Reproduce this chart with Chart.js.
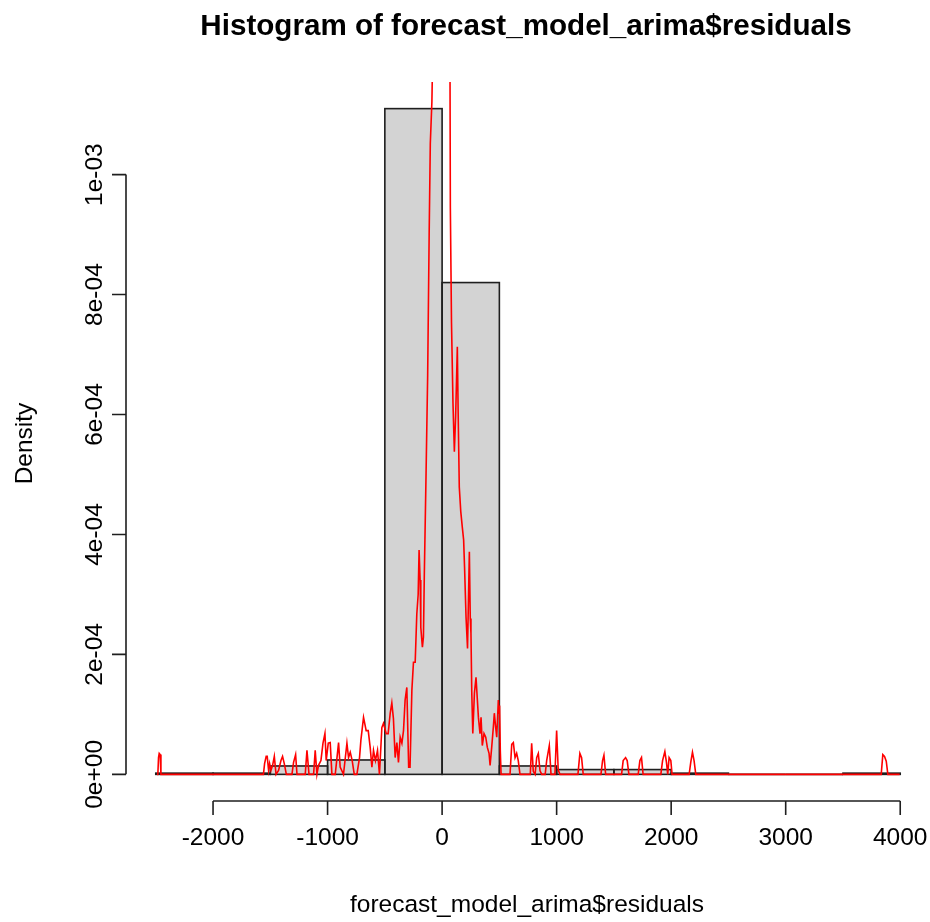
<!DOCTYPE html>
<html>
<head>
<meta charset="utf-8">
<title>Histogram of forecast_model_arima$residuals</title>
<script src="https://cdn.jsdelivr.net/npm/chart.js@4.4.1/dist/chart.umd.min.js"></script>
<style>
  html, body { margin: 0; padding: 0; background: #ffffff; }
  canvas { display: block; }
</style>
</head>
<body>
<canvas id="hist" width="930" height="922"></canvas>
<script>
// Histogram bins (width 500) and their densities
const binBreaks = [-2500, -2000, -1500, -1000, -500, 0, 500, 1000, 1500, 2000, 2500, 3000, 3500, 4000];
const binDensity = [2e-6, 2e-6, 1.4e-5, 2.4e-5, 1.11e-3, 8.2e-4, 1.4e-5, 8e-6, 8e-6, 2e-6, 0, 0, 2e-6];

// Kernel density estimate of the residuals
const kdeX = [
  -2490, -2482, -2476, -2470, -2462, -2455,
  -1560, -1550, -1536, -1527, -1515, -1506, -1494, -1480, -1465, -1450, -1428, -1407, -1393, -1378, -1360,
  -1311, -1297, -1279, -1267, -1195, -1180, -1162, -1122, -1108, -1093, -1079, -1058, -1040, -1023, -1012,
  -994, -977, -962, -933, -904, -890, -861, -831, -817, -802, -785, -767, -744, -721, -709, -686, -663,
  -645, -628, -613, -599, -582, -564, -547, -526, -512, -488, -471, -453, -439, -425, -410, -395, -381,
  -366, -351, -337, -323, -308, -292, -280, -264, -250, -235, -221, -209, -201, -192, -186, -172, -163,
  -155, -140, -126, -113, -103, -89, -78, -20, 40, 68, 72, 82, 95, 107, 118, 133, 140, 146, 150, 163,
  177, 188, 196, 209, 222, 238, 246, 252, 259, 268, 282, 296, 303, 317, 331, 340, 351, 366, 381, 395,
  410, 419, 433, 447, 456, 468, 477, 491, 497, 502, 508, 515, 593, 608, 622, 637, 651, 665, 680,
  770, 782, 796, 812, 826, 840, 855, 870, 900, 913, 936, 951, 985, 1000, 1014, 1029,
  1186, 1203, 1218, 1232, 1387, 1401, 1413, 1428, 1567, 1581, 1602, 1616, 1631,
  1712, 1727, 1741, 1755, 1910, 1925, 1945, 1959, 1970, 1982, 1997, 2008,
  2157, 2171, 2186, 2200, 2215, 3834, 3848, 3863, 3878, 3892, 3995
];
const kdeY = [
  0, 0, 2.8e-5, 3.5e-5, 3.3e-5, 0,
  0, 1.8e-5, 3.0e-5, 3.0e-5, 6.7e-6, 1.8e-5, 6.7e-6, 1.5e-5, 3.0e-5, 0, 6.7e-6, 2.3e-5, 3.0e-5, 1.8e-5, 0,
  0, 2.0e-5, 3.3e-5, 0, 0, 4.0e-5, 0, 0, 4.0e-5, 0, 1.5e-5, 2.3e-5, 5.2e-5, 6.8e-5, 2.3e-5,
  5.2e-5, 5.3e-5, 0, 0, 5.3e-5, 1.2e-5, 0, 5.2e-5, 2.8e-5, 3.7e-5, 2.3e-5, 0, 0, 2.8e-5, 5.7e-5, 9.5e-5, 7.3e-5,
  7.3e-5, 4.5e-5, 1.2e-5, 4.0e-5, 2.3e-5, 4.0e-5, 0, 7.8e-5, 8.5e-5, 6.8e-5, 6.8e-5, 1.02e-4, 1.19e-4, 9.3e-5, 2.8e-5, 5.3e-5, 2.0e-5,
  6.2e-5, 5.2e-5, 7.3e-5, 1.24e-4, 1.45e-4, 1.2e-5, 1.2e-5, 1.4e-4, 1.87e-4, 1.87e-4, 2.67e-4, 3.0e-4, 3.74e-4, 3.24e-4, 2.45e-4, 2.12e-4, 2.29e-4,
  3.36e-4, 5.02e-4, 6.66e-4, 9.0e-4, 1.052e-3, 1.122e-3, 1.25e-3, 2.6e-3, 2.6e-3, 1.25e-3, 9.45e-4, 7.53e-4, 6.19e-4, 5.38e-4, 5.96e-4, 7.13e-4, 6.06e-4, 6.06e-4, 4.79e-4, 4.38e-4,
  4.11e-4, 3.91e-4, 3.46e-4, 2.62e-4, 2.1e-4, 3.71e-4, 2.6e-4, 2.35e-4, 1.37e-4, 6.8e-5, 1.35e-4, 1.62e-4, 1.62e-4, 9.5e-5, 6.8e-5, 9.5e-5, 4.8e-5, 6.8e-5, 6.2e-5, 4.5e-5,
  3.5e-5, 1.5e-5, 4.5e-5, 7.8e-5, 1.02e-4, 7.8e-5, 6.2e-5, 1.24e-4, 1.02e-4, 1.15e-4, 4.0e-5, 0, 0, 5.0e-5, 5.3e-5, 2.8e-5, 3.5e-5, 2.3e-5, 0,
  0, 5.2e-5, 5e-6, 0, 2.8e-5, 3.5e-5, 6e-6, 0, 0, 2.3e-5, 4.8e-5, 0, 0, 7.3e-5, 7e-6, 0,
  0, 3.5e-5, 2.8e-5, 0, 0, 2.3e-5, 3.2e-5, 0, 0, 2.3e-5, 2.8e-5, 2.3e-5, 0,
  0, 2.3e-5, 2.8e-5, 0, 0, 2.3e-5, 3.8e-5, 2.0e-5, 0, 2.8e-5, 2.3e-5, 0,
  0, 2.0e-5, 3.7e-5, 2.3e-5, 0, 0, 3.3e-5, 3.0e-5, 2.2e-5, 0, 0
];

// Axis ticks
const xTicks = [-2000, -1000, 0, 1000, 2000, 3000, 4000];
const xTickLabels = ['-2000', '-1000', '0', '1000', '2000', '3000', '4000'];
const yTicks = [0, 2e-4, 4e-4, 6e-4, 8e-4, 1e-3];
const yTickLabels = ['0e+00', '2e-04', '4e-04', '6e-04', '8e-04', '1e-03'];

const mainTitle = 'Histogram of forecast_model_arima$residuals';
const xTitle = 'forecast_model_arima$residuals';
const yTitle = 'Density';

// Base-graphics style limits: data range widened by 4% on each side
const xLo = binBreaks[0], xHi = binBreaks[binBreaks.length - 1];
const xPad = 0.04 * (xHi - xLo);
const yHi = Math.max(...binDensity);
const yPad = 0.04 * yHi;

const binMids = binDensity.map((_, i) => (binBreaks[i] + binBreaks[i + 1]) / 2);
const barPoints = binMids.map((m, i) => ({ x: m, y: binDensity[i] }));
const kdePoints = kdeX.map((x, i) => ({ x: x, y: kdeY[i] }));

const FONT = '"Liberation Sans", Arial, Helvetica, sans-serif';
const INK = '#1f1f1f';

// Outlines every histogram rectangle, as base graphics rect() does
const barOutline = {
  id: 'barOutline',
  afterDatasetDraw(chart, args) {
    if (args.index !== 0) return;
    const ctx = chart.ctx;
    ctx.save();
    ctx.strokeStyle = INK;
    ctx.lineWidth = 1.6;
    args.meta.data.forEach(el => {
      const p = el.getProps(['x', 'y', 'base', 'width'], true);
      const left = p.x - p.width / 2;
      const top = Math.min(p.y, p.base);
      const h = Math.abs(p.base - p.y);
      ctx.strokeRect(left, top, p.width, h);
    });
    ctx.restore();
  }
};

// Axes, tick labels and titles drawn in the classic base-graphics layout
const baseAxes = {
  id: 'baseAxes',
  afterDraw(chart) {
    const ctx = chart.ctx;
    const xs = chart.scales.x, ys = chart.scales.y;
    const area = chart.chartArea;
    const tickLen = 14;
    ctx.save();
    ctx.strokeStyle = INK;
    ctx.lineWidth = 1.6;
    ctx.fillStyle = '#000000';

    // x axis
    const xAxisY = area.bottom;
    const xa = xs.getPixelForValue(xTicks[0]);
    const xb = xs.getPixelForValue(xTicks[xTicks.length - 1]);
    ctx.beginPath();
    ctx.moveTo(xa, xAxisY);
    ctx.lineTo(xb, xAxisY);
    xTicks.forEach(v => {
      const px = xs.getPixelForValue(v);
      ctx.moveTo(px, xAxisY);
      ctx.lineTo(px, xAxisY + tickLen);
    });
    ctx.stroke();
    ctx.font = '24.5px ' + FONT;
    ctx.textAlign = 'center';
    ctx.textBaseline = 'middle';
    xTicks.forEach((v, i) => {
      ctx.fillText(xTickLabels[i], xs.getPixelForValue(v), 838);
    });

    // y axis
    const yAxisX = area.left;
    const ya = ys.getPixelForValue(yTicks[0]);
    const yb = ys.getPixelForValue(yTicks[yTicks.length - 1]);
    ctx.beginPath();
    ctx.moveTo(yAxisX, ya);
    ctx.lineTo(yAxisX, yb);
    yTicks.forEach(v => {
      const py = ys.getPixelForValue(v);
      ctx.moveTo(yAxisX, py);
      ctx.lineTo(yAxisX - tickLen, py);
    });
    ctx.stroke();
    yTicks.forEach((v, i) => {
      ctx.save();
      ctx.translate(95, ys.getPixelForValue(v));
      ctx.rotate(-Math.PI / 2);
      ctx.fillText(yTickLabels[i], 0, 0);
      ctx.restore();
    });

    // titles
    const midX = (area.left + area.right) / 2;
    ctx.fillText(xTitle, midX - 1, 905);
    ctx.save();
    ctx.translate(25, (area.top + area.bottom) / 2 + 2);
    ctx.rotate(-Math.PI / 2);
    ctx.fillText(yTitle, 0, 0);
    ctx.restore();
    ctx.font = 'bold 29.6px ' + FONT;
    ctx.fillText(mainTitle, midX - 2, 27);
    ctx.restore();
  }
};

new Chart(document.getElementById('hist'), {
  type: 'bar',
  data: {
    datasets: [
      {
        type: 'bar',
        label: 'Histogram',
        data: barPoints,
        backgroundColor: '#D3D3D3',
        borderWidth: 0,
        barPercentage: 1,
        categoryPercentage: 1,
        order: 1
      },
      {
        type: 'line',
        label: 'Density',
        data: kdePoints,
        borderColor: '#FF0000',
        borderWidth: 1.6,
        pointRadius: 0,
        tension: 0,
        fill: false,
        order: 0
      }
    ]
  },
  options: {
    responsive: false,
    animation: false,
    events: [],
    layout: { padding: { left: 126, right: 0, top: 82, bottom: 121 } },
    plugins: {
      legend: { display: false },
      tooltip: { enabled: false },
      title: { display: false }
    },
    scales: {
      x: {
        type: 'linear',
        display: false,
        offset: false,
        min: xLo - xPad,
        max: xHi + xPad
      },
      y: {
        type: 'linear',
        display: false,
        min: -yPad,
        max: yHi + yPad
      }
    }
  },
  plugins: [barOutline, baseAxes]
});
</script>
</body>
</html>
